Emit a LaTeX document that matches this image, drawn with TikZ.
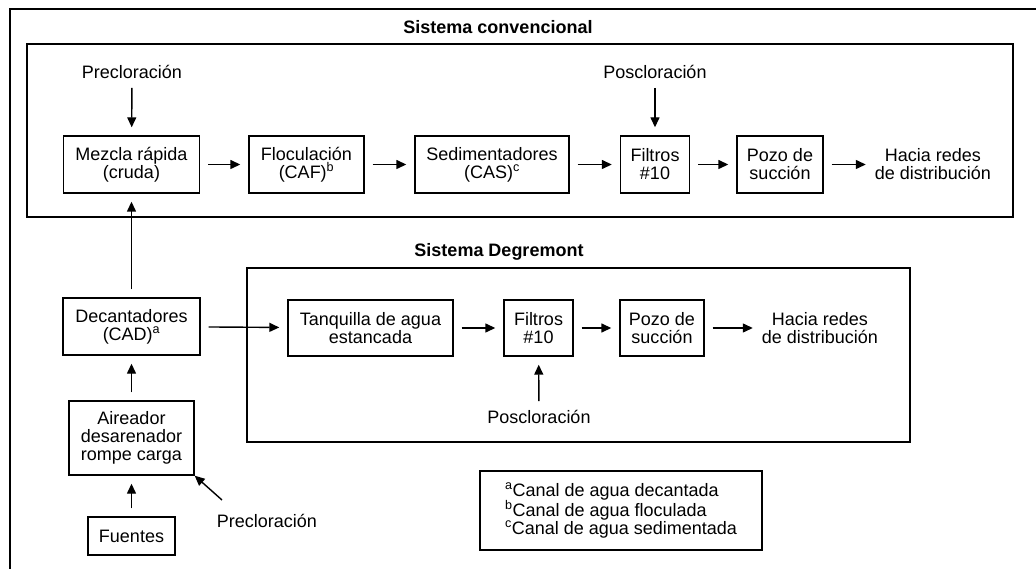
\documentclass[tikz,border=0pt]{standalone}
\usepackage{fontspec}
\setmainfont{Liberation Sans}
\usetikzlibrary{positioning,arrows.meta}

\tikzset{
  caja/.style={draw, line width=1.4pt, align=center, inner sep=0pt, font=\fontsize{18}{18}\selectfont},
  texto/.style={align=center, inner sep=1pt, font=\fontsize{18}{18}\selectfont},
  titulo/.style={inner sep=1pt, font=\fontsize{18}{18}\selectfont\bfseries},
  flecha/.style={->, line width=1.4pt, shorten <=8pt, shorten >=8pt},
}

\begin{document}
\begin{tikzpicture}[x=1pt, y=-1pt, >={Stealth[length=10pt,width=9pt,inset=0pt]}]
\useasboundingbox (0,0) rectangle (1036,569);

% frames
\draw[line width=1.4pt] (10,569) -- (10,9) -- (1036,9);
\draw[line width=1.4pt] (27,44) rectangle (1013,217);
\draw[line width=1.4pt] (247,268) rectangle (910,442);
\node[titulo] (T1) at (498,27) {Sistema convencional};
\node[titulo] (T2) at (499,252) {Sistema Degremont};

% conventional nodes
\node[texto] (Pre1) at (132,72) {Precloración};
\node[texto] (Pos1) at (655,72) {Poscloración};
\node[caja, minimum width=136, minimum height=57] (M1) at (131.5,164.5) {Mezcla rápida\\(cruda)};
\node[caja, minimum width=115, minimum height=57] (F1) at (306.5,164.5) {Floculación\\(CAF)\textsuperscript{b}};
\node[caja, minimum width=154, minimum height=57] (S1) at (492,164.5) {Sedimentadores\\(CAS)\textsuperscript{c}};
\node[caja, minimum width=69, minimum height=57] (Fi1) at (655,164.5) {Filtros\\\#10};
\node[caja, minimum width=86, minimum height=57] (P1) at (780,164.5) {Pozo de\\succión};
\node[texto] (H1) at (933,164.5) {Hacia redes\\de distribución};

% source nodes
\node[caja, minimum width=137, minimum height=57] (D) at (131.5,326.5) {Decantadores\\(CAD)\textsuperscript{a}};
\node[caja, minimum width=125, minimum height=74] (A) at (131.5,438) {Aireador\\desarenador\\rompe carga};
\node[caja, minimum width=87, minimum height=38] (Fu) at (131.5,536) {Fuentes};
\node[texto] (Pre2) at (267,521) {Precloración};
\coordinate (C2) at (222,500);

% Degremont nodes
\node[caja, minimum width=165, minimum height=56] (T) at (370.5,328) {Tanquilla de agua\\estancada};
\node[caja, minimum width=69, minimum height=56] (Fi2) at (538.5,328) {Filtros\\\#10};
\node[caja, minimum width=84, minimum height=56] (P2) at (662,328) {Pozo de\\succión};
\node[texto] (H2) at (820,328) {Hacia redes\\de distribución};
\node[texto] (Pos2) at (539,417) {Poscloración};

% legend
\node[caja, align=left, minimum width=282, minimum height=79] (L) at (621,510.5)
  {\textsuperscript{a}Canal de agua decantada\\\textsuperscript{b}Canal de agua floculada\\\textsuperscript{c}Canal de agua sedimentada};

% arrows
\draw[flecha] (Pre1) -- (M1);
\draw[flecha] (Pos1) -- (Fi1);
\draw[flecha] (M1) -- (F1);
\draw[flecha] (F1) -- (S1);
\draw[flecha] (S1) -- (Fi1);
\draw[flecha] (Fi1) -- (P1);
\draw[flecha] (P1) -- (H1);
\draw[flecha] (D) -- (M1);
\draw[flecha] (A) -- (D);
\draw[flecha] (Fu) -- (A);
\draw[->, line width=1.4pt] (C2) -- (A.south east);
\draw[flecha] (D) -- (T);
\draw[flecha] (T) -- (Fi2);
\draw[flecha] (Fi2) -- (P2);
\draw[flecha] (P2) -- (H2);
\draw[flecha] (Pos2) -- (Fi2);
\end{tikzpicture}
\end{document}
